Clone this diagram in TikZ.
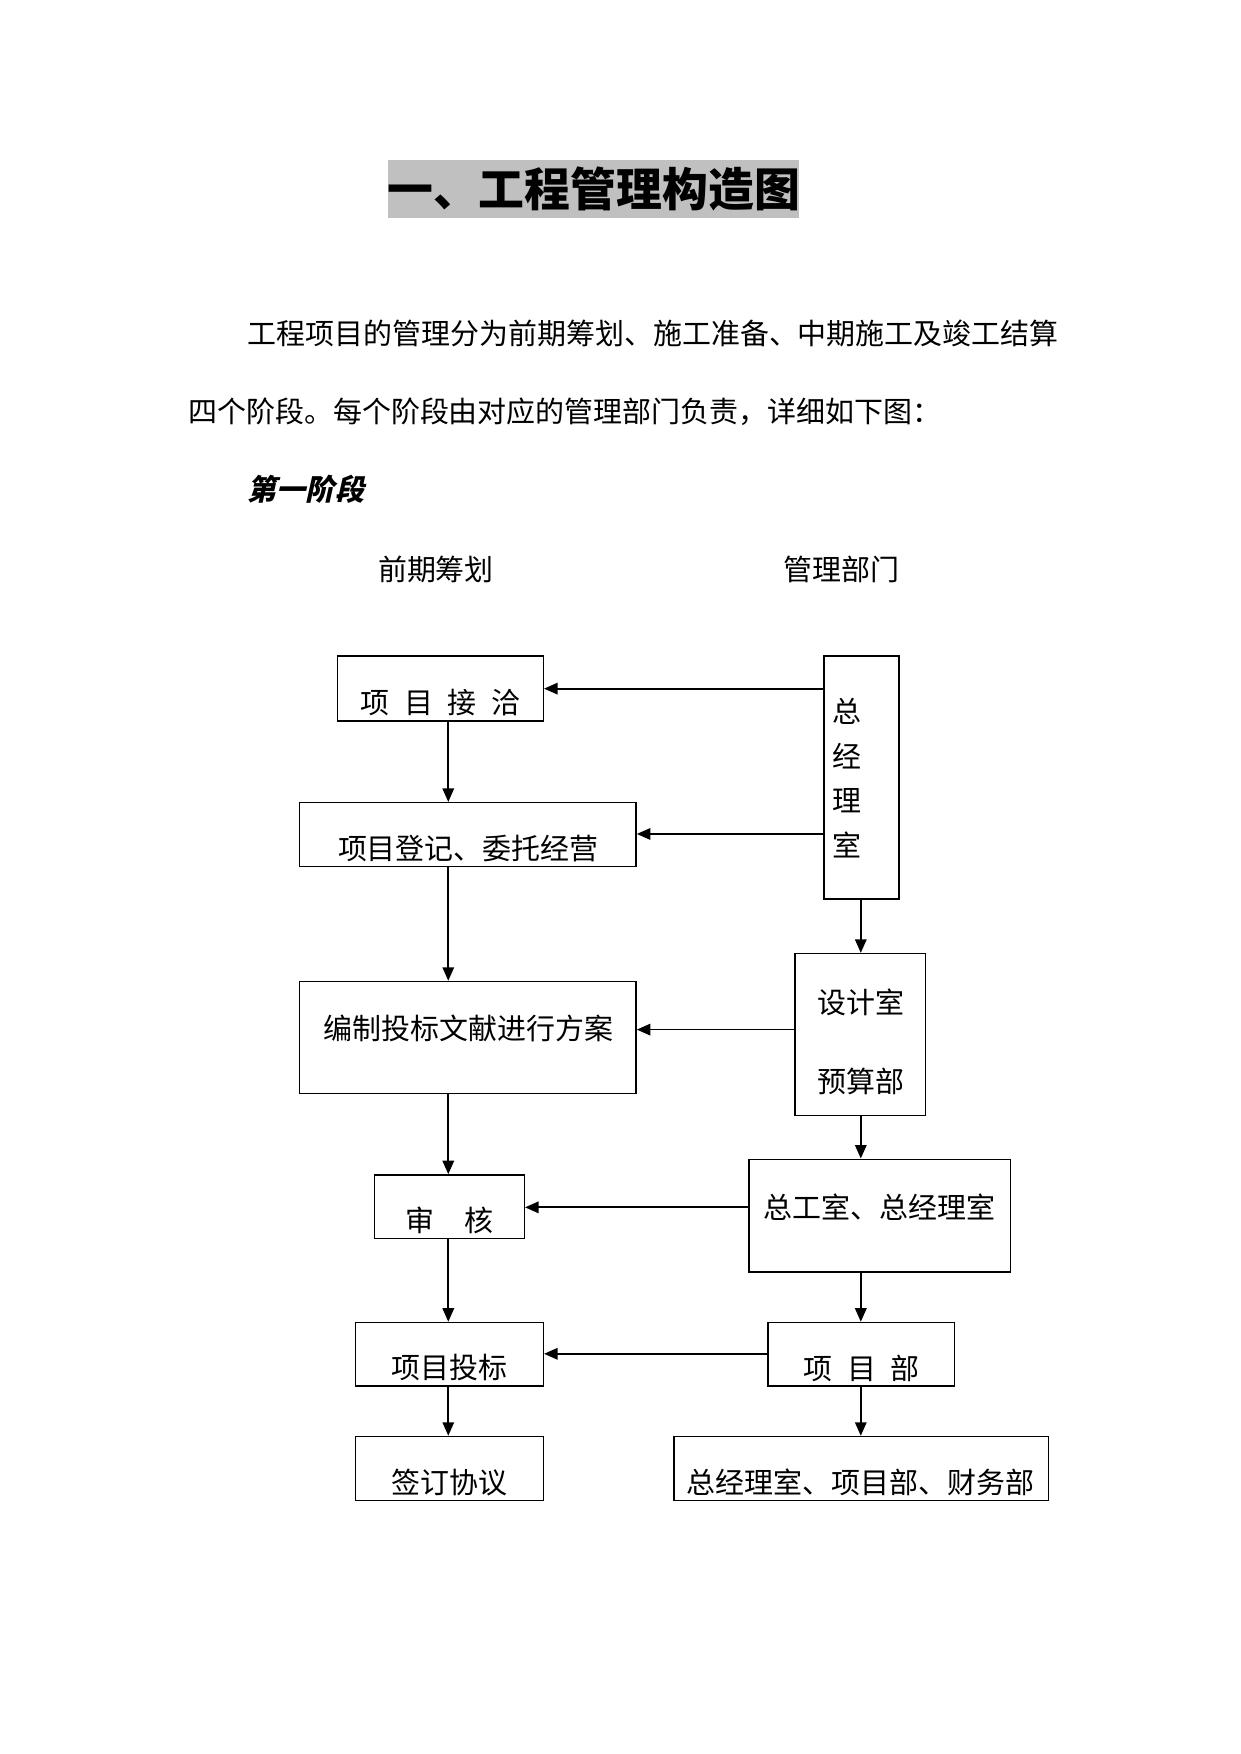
\documentclass[tikz,border=0pt]{standalone}
\usepackage{fontspec}
\setmainfont{Noto Sans CJK SC}
\newfontfamily\cjksl{Noto Sans CJK SC}[FakeSlant=0.22]
\usetikzlibrary{arrows.meta,fit}
\definecolor{titlegray}{RGB}{192,192,192}
\begin{document}
\begin{tikzpicture}[x=0.5363pt,y=-0.5363pt,
  box/.style={draw, line width=0.7pt, inner sep=0pt},
  txt/.style={font=\fontsize{13.9}{16}\selectfont, inner sep=0pt},
  arr/.style={-{Triangle[length=6.5pt,width=5.5pt]}, line width=0.85pt}]
\useasboundingbox (0,0) rectangle (1110,1569);
% title
\node[fill=titlegray, inner sep=0pt, fit={(347,143)(715,195)}] (titlebg) {};
\node[font=\fontsize{22}{26}\selectfont\bfseries, inner sep=0pt] (title) at (titlebg.center) {一、工程管理构造图};
% paragraph
\node[txt, anchor=west] (p1) at (221,298) {工程项目的管理分为前期筹划、施工准备、中期施工及竣工结算};
\node[txt, anchor=west] (p2) at (168,368) {四个阶段。每个阶段由对应的管理部门负责，详细如下图：};
\node[inner sep=0pt, anchor=west, font=\fontsize{14}{16}\selectfont\cjksl\bfseries] (stage) at (221,438) {第一阶段};
\node[txt] (h1) at (390,509) {前期筹划};
\node[txt] (h2) at (753,509) {管理部门};
% left boxes
\node[box, fit={(302,587)(486,645)}] (b1) {};
\node[box, fit={(268,718)(569,775)}] (b2) {};
\node[box, fit={(268,878)(569,978)}] (b3) {};
\node[box, fit={(335,1051)(469,1108)}] (b4) {};
\node[box, fit={(318,1183)(486,1240)}] (b5) {};
\node[box, fit={(318,1285)(486,1342)}] (b6) {};
\node[txt] (t1) at (394,628) {项\hspace{0.5em}目\hspace{0.5em}接\hspace{0.5em}洽};
\node[txt] (t2) at (419,759) {项目登记、委托经营};
\node[txt] (t3) at (419,920) {编制投标文献进行方案};
\node[txt] (t4) at (402,1092) {审\hspace{1.05em}核};
\node[txt] (t5) at (402,1223) {项目投标};
\node[txt] (t6) at (402,1326) {签订协议};
% right boxes
\node[box, fit={(737,587)(804,804)}] (rA) {};
\node[box, fit={(711,853)(828,998)}] (rB) {};
\node[box, fit={(670,1037)(904,1138)}] (rC) {};
\node[box, fit={(687,1183)(854,1240)}] (rD) {};
\node[box, fit={(603,1285)(938,1342)}] (rE) {};
\node[txt, align=center, font=\fontsize{13.9}{21.5}\selectfont] (sA) at (758,696) {总\\经\\理\\室};
\node[txt] (sB1) at (770,897) {设计室};
\node[txt] (sB2) at (770,967) {预算部};
\node[txt] (sC) at (787,1080) {总工室、总经理室};
\node[txt] (sD) at (771,1224) {项\hspace{0.5em}目\hspace{0.5em}部};
\node[txt] (sE) at (770,1326) {总经理室、项目部、财务部};
% helper coordinates
\coordinate (xl) at (401,0);
\coordinate (xr) at (770,0);
\coordinate (y1) at (0,616);
\coordinate (y2) at (0,746);
\coordinate (y3) at (0,921);
\coordinate (y4) at (0,1080);
\coordinate (y5) at (0,1211);
% vertical arrows left
\draw[arr] (b1.south -| xl) -- (b2.north -| xl);
\draw[arr] (b2.south -| xl) -- (b3.north -| xl);
\draw[arr] (b3.south -| xl) -- (b4.north -| xl);
\draw[arr] (b4.south -| xl) -- (b5.north -| xl);
\draw[arr] (b5.south -| xl) -- (b6.north -| xl);
% vertical arrows right
\draw[arr] (rA.south -| xr) -- (rB.north -| xr);
\draw[arr] (rB.south -| xr) -- (rC.north -| xr);
\draw[arr] (rC.south -| xr) -- (rD.north -| xr);
\draw[arr] (rD.south -| xr) -- (rE.north -| xr);
% horizontal arrows
\draw[arr] (rA.west |- y1) -- (b1.east |- y1);
\draw[arr] (rA.west |- y2) -- (b2.east |- y2);
\draw[arr] (rB.west |- y3) -- (b3.east |- y3);
\draw[arr] (rC.west |- y4) -- (b4.east |- y4);
\draw[arr] (rD.west |- y5) -- (b5.east |- y5);
\end{tikzpicture}
\end{document}
